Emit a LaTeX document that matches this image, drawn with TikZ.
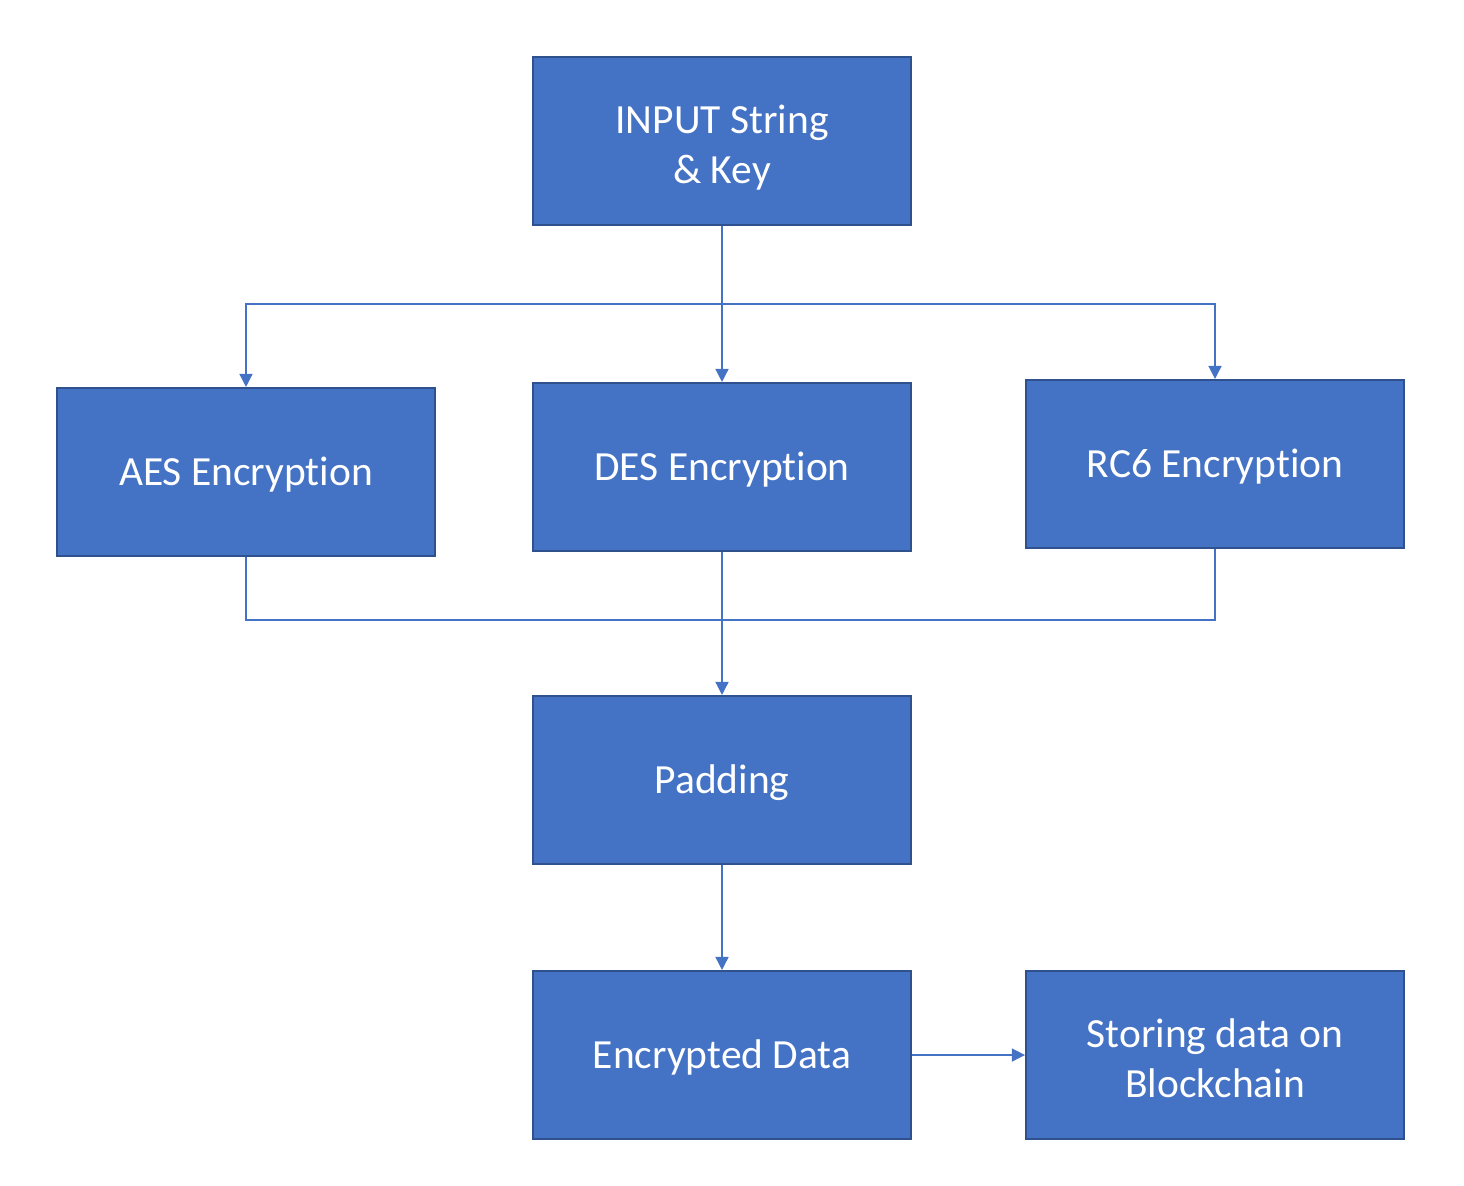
\documentclass[tikz,border=0pt]{standalone}
\usepackage{fontspec}
\setmainfont{Carlito}[Ligatures = NoCommon]
\usetikzlibrary{arrows.meta}

\definecolor{boxblue}{HTML}{4472C4}
\definecolor{boxedge}{HTML}{2F528F}

\newcommand{\lowerstrut}{\rule{0pt}{13.3pt}}

\tikzset{
	stage/.style = {draw = boxedge, line width = 0.6pt, fill = boxblue, text = white,
		minimum width = 3.78cm, minimum height = 1.68cm, inner sep = 0pt,
		align = center, font = \fontsize{11.8}{14.2}\selectfont,
		execute at begin node = {\rule[-3.5pt]{0pt}{14.4pt}},
		execute at end node = {\rule[-3.5pt]{0pt}{3.5pt}}},
	flow/.style = {boxblue, line width = 0.4pt},
	tip/.style = {flow, -{Triangle[length = 1.3mm, width = 1.3mm]}}
}

\begin{document}
\begin{tikzpicture}
	
		\useasboundingbox (0, 0) rectangle (14.64, -11.85);
		
		% Input
		\node[stage] (input) at (7.22, -1.41) {\lowerstrut INPUT String\\ \& Key};
		
		% Encryption layer
		\node[stage] (aes) at (2.46, -4.72) {AES Encryption};
		\node[stage] (des) at (7.22, -4.67) {DES Encryption};
		\node[stage] (rc6) at (12.15, -4.64) {RC6 Encryption};
		
		% Padding and output
		\node[stage] (padding) at (7.22, -7.80) {Padding};
		\node[stage] (encrypted) at (7.22, -10.55) {Encrypted Data};
		\node[stage] (storing) at (12.15, -10.55) {\lowerstrut Storing data on\\ Blockchain};
		
		% Split and merge points
		\coordinate (split) at (7.22, -3.04);
		\coordinate (merge) at (7.22, -6.20);
		
		% Split to the three ciphers
		\draw[flow] (input.south) -- (split);
		\draw[tip] (split) -| (aes.north);
		\draw[tip] (split) -- (des.north);
		\draw[tip] (split) -| (rc6.north);
		
		% Merge into padding
		\draw[flow] (aes.south) |- (merge);
		\draw[flow] (rc6.south) |- (merge);
		\draw[tip] (des.south) -- (padding.north);
		
		% Output chain
		\draw[tip] (padding.south) -- (encrypted.north);
		\draw[tip] (encrypted.east) -- (storing.west);
		
	\end{tikzpicture}
\end{document}
